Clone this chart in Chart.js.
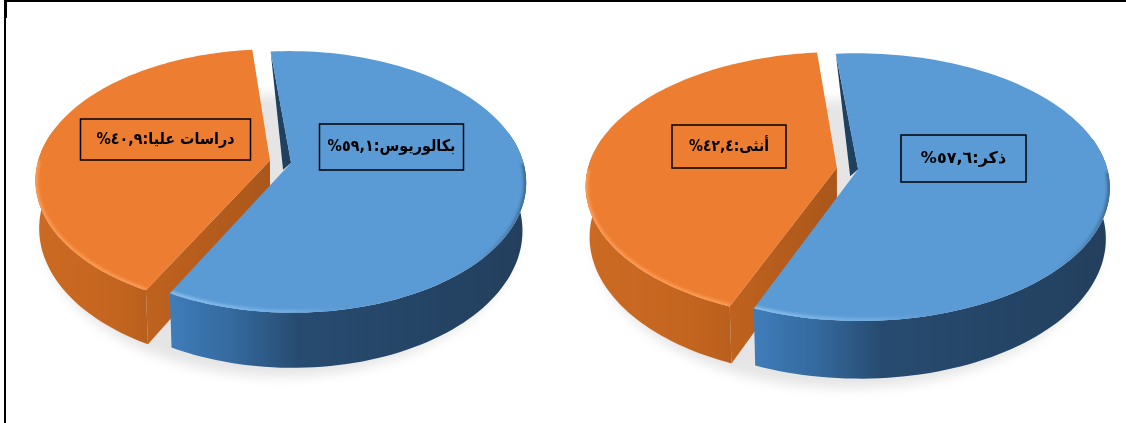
<!DOCTYPE html>
<html lang="ar">
<head>
<meta charset="utf-8">
<title>التوزيع حسب الجنس والمؤهل</title>
<script src="https://cdn.jsdelivr.net/npm/chart.js@4"></script>
<style>
    html, body { margin: 0; padding: 0; background: #fff; }
    #page { position: relative; width: 1126px; height: 423px; overflow: hidden; background: #fff; }
    #page canvas { position: absolute; }
    .rule { position: absolute; background: #000; }
</style>
</head>
<body>
<div id="page">
    <canvas id="degreePie"></canvas>
    <canvas id="genderPie"></canvas>
    <div class="rule" style="left:4px;top:0;width:1122px;height:2px"></div>
    <div class="rule" style="left:4px;top:0;width:3px;height:18px"></div>
    <div class="rule" style="left:4px;top:18px;width:2px;height:405px"></div>
</div>
<script>
const degreeLabels = ['بكالوريوس', 'دراسات عليا'];
const degreeValues = [59.1, 40.9];

const genderLabels = ['ذكر', 'أنثى'];
const genderValues = [57.6, 42.4];

const sliceColors = ['#5b9bd5', '#ed7d31'];
const wallColors = [
    [[0, '#3f7dba'], [0.18, '#34699d'], [0.36, '#274b70'], [1, '#233f5d']],
    [[0, '#cc6a23'], [0.7, '#c4651f'], [1, '#b95f1d']]
];
const rimColors = [
    [[0, '#8cc1f0'], [0.35, '#72ade2'], [0.55, 'rgba(91,155,213,0)'], [0.8, 'rgba(91,155,213,0)'], [1, 'rgba(30,60,90,0.55)']],
    [[0, '#fa9c55'], [1, '#fa9c55']]
];

// 3.14 -> Arabic-Indic digits with a comma, the way the labels print them
function arabicNumber(value) {
    return value.toFixed(1).replace('.', ',').replace(/[0-9]/g, function (d) {
        return '٠١٢٣٤٥٦٧٨٩'[d];
    });
}

// disc coordinates -> screen, with the near side of the disc drawn larger
function project(el, tilt, px, py, z) {
    const w = 1 - tilt.perspective * py / el.outerRadius;
    return {
        x: el.x + px / w * (1 - 0.015 * z),
        y: el.y + (py * tilt.squash + tilt.depth * z) / w
    };
}

function rimPoints(el, tilt, z) {
    const mid = (el.startAngle + el.endAngle) / 2;
    const shift = el.options.offset / 4;
    const points = [];
    const steps = 120;
    for (let i = 0; i <= steps; i++) {
        const a = el.startAngle + (el.endAngle - el.startAngle) * i / steps;
        const p = project(el, tilt,
            Math.cos(mid) * shift + Math.cos(a) * el.outerRadius,
            Math.sin(mid) * shift + Math.sin(a) * el.outerRadius, z);
        p.near = Math.sin(a) > 0;
        p.side = Math.sin(a) > -0.25;
        points.push(p);
    }
    return points;
}

function apexPoint(el, tilt, z) {
    const mid = (el.startAngle + el.endAngle) / 2;
    const shift = el.options.offset / 4;
    return project(el, tilt, Math.cos(mid) * shift, Math.sin(mid) * shift, z);
}

function tracePolygon(ctx, points) {
    ctx.beginPath();
    points.forEach(function (p, i) {
        if (i === 0) ctx.moveTo(p.x, p.y);
        else ctx.lineTo(p.x, p.y);
    });
    ctx.closePath();
}

function horizontalGradient(ctx, points, stops) {
    const xs = points.map(function (p) { return p.x; });
    const g = ctx.createLinearGradient(Math.min.apply(null, xs), 0, Math.max.apply(null, xs), 0);
    stops.forEach(function (s) { g.addColorStop(s[0], s[1]); });
    return g;
}

function drawShadow(ctx, chart, tilt) {
    const el = chart.getDatasetMeta(0).data[0];
    const points = [];
    for (let i = 0; i < 90; i++) {
        const a = i / 90 * Math.PI * 2;
        points.push(project(el, tilt, Math.cos(a) * el.outerRadius * 1.02, Math.sin(a) * el.outerRadius * 1.02, 1.12));
    }
    ctx.save();
    ctx.filter = 'blur(6px)';
    ctx.fillStyle = 'rgba(0,0,0,0.1)';
    tracePolygon(ctx, points);
    ctx.fill();
    ctx.restore();
}

function drawSlice(ctx, el, index, tilt) {
    const top = rimPoints(el, tilt, 0);
    const bottom = rimPoints(el, tilt, 1);
    const apex = apexPoint(el, tilt, 0);
    const isSide = function (p) { return p.side; };

    // outer wall, only the part facing the viewer
    const wall = top.filter(isSide).concat(bottom.filter(isSide).reverse());
    ctx.fillStyle = horizontalGradient(ctx, wall, wallColors[index]);
    tracePolygon(ctx, wall);
    ctx.fill();

    // cut face along the starting edge
    if (Math.sin(el.startAngle) > 0) {
        const cut = [top[0], apex, apexPoint(el, tilt, 1), bottom[0]];
        ctx.fillStyle = horizontalGradient(ctx, cut, [[0, '#bf621f'], [1, '#ab571b']]);
        tracePolygon(ctx, cut);
        ctx.fill();
    } else {
        ctx.fillStyle = '#20405f';
        tracePolygon(ctx, [top[0], apex, { x: apex.x - 8, y: apex.y + 7 }]);
        ctx.fill();
    }

    // top of the slice
    const face = [apex].concat(top);
    ctx.fillStyle = el.options.backgroundColor;
    tracePolygon(ctx, face);
    ctx.fill();

    // soft bevel along the near rim
    const near = top.filter(function (p) { return p.near; });
    ctx.save();
    tracePolygon(ctx, face);
    ctx.clip();
    ctx.filter = 'blur(1.5px)';
    ctx.lineWidth = 5;
    ctx.strokeStyle = horizontalGradient(ctx, near, rimColors[index]);
    ctx.beginPath();
    near.forEach(function (p, i) {
        if (i === 0) ctx.moveTo(p.x, p.y);
        else ctx.lineTo(p.x, p.y);
    });
    ctx.stroke();
    ctx.restore();
}

function drawLabels(ctx, chart, tilt) {
    const labels = chart.data.labels;
    const values = chart.data.datasets[0].data;
    tilt.boxes.forEach(function (box, i) {
        const x = box[0] - tilt.left;
        const y = box[1] - tilt.top;
        ctx.strokeStyle = '#000';
        ctx.lineWidth = 1.5;
        ctx.strokeRect(x, y, box[2], box[3]);
        ctx.fillStyle = '#000';
        ctx.font = 'bold 16px "DejaVu Sans"';
        ctx.direction = 'rtl';
        ctx.textAlign = 'center';
        ctx.textBaseline = 'middle';
        ctx.fillText(labels[i] + ':' + arabicNumber(values[i]) + '%', x + box[2] / 2, y + box[3] / 2, box[4]);
    });
}

// replaces the flat arcs with tilted ones, angles and radius still come from the arc elements
const tiltedPie = {
    id: 'tilt',
    beforeDatasetDraw: function (chart, args, opts) {
        const ctx = chart.ctx;
        const arcs = chart.getDatasetMeta(0).data;
        drawShadow(ctx, chart, opts);
        drawSlice(ctx, arcs[1], 1, opts);
        drawSlice(ctx, arcs[0], 0, opts);
        drawLabels(ctx, chart, opts);
        return false;
    }
};

function makePie(id, labels, values, centerX, centerY, radius, tilt) {
    const offset = 43;
    const size = radius * 2 + offset;
    const canvas = document.getElementById(id);
    canvas.width = size;
    canvas.height = size;
    canvas.style.left = (centerX - size / 2) + 'px';
    canvas.style.top = (centerY - size / 2) + 'px';
    tilt.left = centerX - size / 2;
    tilt.top = centerY - size / 2;

    return new Chart(canvas, {
        type: 'pie',
        data: {
            labels: labels,
            datasets: [{
                data: values,
                backgroundColor: sliceColors,
                borderWidth: 0,
                offset: offset
            }]
        },
        options: {
            responsive: false,
            animation: false,
            rotation: tilt.rotation,
            layout: { padding: 0 },
            plugins: {
                legend: { display: false },
                tooltip: { enabled: false },
                tilt: tilt
            }
        },
        plugins: [tiltedPie]
    });
}

makePie('degreePie', degreeLabels, degreeValues, 280.5, 161, 232, {
    rotation: -5.4,
    squash: 0.55,
    perspective: 0.147,
    depth: 47,
    boxes: [[319.5, 123.5, 144, 46, 128], [80.5, 118.5, 170, 41, 138]]
});

makePie('genderPie', genderLabels, genderValues, 847, 168, 249, {
    rotation: -5.5,
    squash: 0.527,
    perspective: 0.133,
    depth: 50,
    boxes: [[900.5, 134.5, 125, 47, 89], [671.5, 124.5, 114, 43, 80]]
});
</script>
</body>
</html>
